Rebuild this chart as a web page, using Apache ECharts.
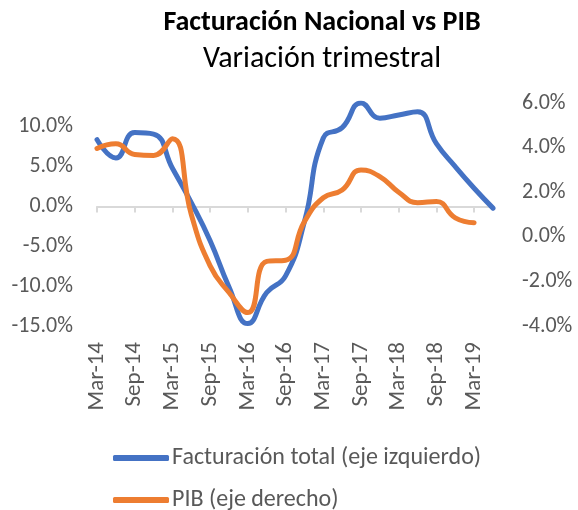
<!DOCTYPE html>
<html>
<head>
<meta charset="utf-8">
<script src="https://cdn.jsdelivr.net/npm/echarts@6/dist/echarts.min.js"></script>
<style>
html, body { margin: 0; padding: 0; background: #fff; }
#main { width: 578px; height: 510px; }
</style>
</head>
<body>
<div id="main"></div>
<script>
// trimestres
var quarters = ['Mar-14', 'Jun-14', 'Sep-14', 'Dec-14', 'Mar-15', 'Jun-15', 'Sep-15', 'Dec-15',
	'Mar-16', 'Jun-16', 'Sep-16', 'Dec-16', 'Mar-17', 'Jun-17', 'Sep-17', 'Dec-17',
	'Mar-18', 'Jun-18', 'Sep-18', 'Dec-18', 'Mar-19', 'Jun-19'];
// Facturación total, eje izquierdo (%)
var facturacion = [8.4, 6.1, 9.3, 9.1, 4.8, 0.5, -4.3, -10.1, -14.7, -10.8, -8.7, -1.9,
	8.6, 9.9, 13.0, 11.1, 11.5, 11.9, 7.9, 5.0, 2.3, -0.2];
// PIB, eje derecho (%)
var pib = [3.96, 4.17, 3.69, 3.65, 4.4, 1.0, -1.3, -2.5, -3.4, -1.1, -1.05, 0.68,
	1.75, 2.1, 3.0, 2.7, 2.0, 1.53, 1.58, 0.85, 0.63, null];
var seriesNames = ['Facturación total (eje izquierdo)', 'PIB (eje derecho)'];

var font = 'Carlito, Calibri, Lato, sans-serif';
var myChart = echarts.init(document.getElementById('main'));

function pct(v) {
	return v.toFixed(1) + '%';
}

// una leyenda por serie, una debajo de otra
function legendItem(name, top) {
	return {
		left: 108,
		top: top,
		itemWidth: 56,
		itemHeight: 6,
		icon: 'roundRect',
		textStyle: { fontFamily: font, fontSize: 24, color: '#595959', padding: [0, 0, 0, -2] },
		data: [name]
	};
}

myChart.setOption({
	animation: false,
	color: ['#4472C4', '#ED7D31'],
	textStyle: { fontFamily: font },
	title: [{
		text: 'Facturación Nacional vs PIB',
		left: 317,
		top: 4,
		textAlign: 'center',
		textStyle: { fontFamily: font, fontSize: 28, fontWeight: 'bold', color: '#000' }
	}, {
		text: 'Variación trimestral',
		left: 317,
		top: 39,
		textAlign: 'center',
		textStyle: { fontFamily: font, fontSize: 30, fontWeight: 'normal', color: '#000' }
	}],
	legend: [legendItem(seriesNames[0], 441), legendItem(seriesNames[1], 483)],
	grid: {
		left: 97,
		right: 85,
		top: 103,
		height: 223
	},
	xAxis: [{
		// línea del eje en el cero
		type: 'category',
		data: quarters,
		position: 'bottom',
		boundaryGap: false,
		axisLine: { show: true, onZero: true, onZeroAxisIndex: 0, lineStyle: { color: '#d9d9d9', width: 2 } },
		axisTick: { show: true, interval: 1, length: 6, lineStyle: { color: '#d9d9d9', width: 2 } },
		axisLabel: { show: false }
	}, {
		// etiquetas abajo
		type: 'category',
		data: quarters,
		position: 'bottom',
		boundaryGap: false,
		axisLine: { show: false, onZero: false },
		axisTick: { show: false },
		axisLabel: {
			interval: 1,
			rotate: 90,
			margin: 16,
			fontFamily: font,
			fontSize: 23,
			color: '#595959'
		}
	}],
	yAxis: [{
		type: 'value',
		min: -15,
		max: 13,
		interval: 5,
		splitLine: { show: false },
		axisLine: { show: false },
		axisTick: { show: false },
		axisLabel: {
			showMaxLabel: false,
			margin: 24,
			fontFamily: font,
			fontSize: 22,
			color: '#595959',
			formatter: pct
		}
	}, {
		type: 'value',
		min: -4,
		max: 6,
		interval: 2,
		splitLine: { show: false },
		axisLine: { show: false },
		axisTick: { show: false },
		axisLabel: {
			margin: 29,
			fontFamily: font,
			fontSize: 22,
			color: '#595959',
			formatter: pct
		}
	}],
	series: [{
		name: seriesNames[0],
		type: 'line',
		xAxisIndex: 0,
		yAxisIndex: 0,
		smooth: 0.5,
		showSymbol: false,
		lineStyle: { width: 5, cap: 'round', join: 'round' },
		data: facturacion
	}, {
		name: seriesNames[1],
		type: 'line',
		xAxisIndex: 0,
		yAxisIndex: 1,
		smooth: 0.5,
		showSymbol: false,
		lineStyle: { width: 5, cap: 'round', join: 'round' },
		data: pib
	}]
});
</script>
</body>
</html>
